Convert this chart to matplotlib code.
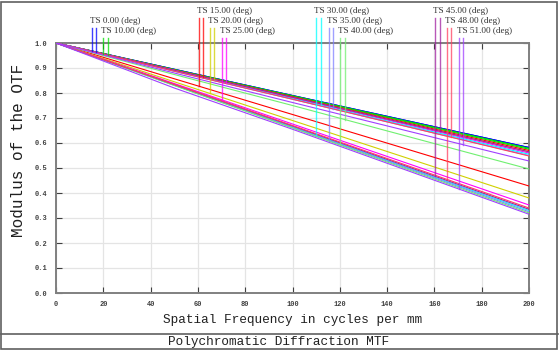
import numpy as np
import matplotlib
matplotlib.use("Agg")
import matplotlib.pyplot as plt
from matplotlib.lines import Line2D
from matplotlib.patches import Rectangle

# spatial frequency samples (cycles/mm)
freq = [0, 50, 100, 150, 200]

# field angles (deg) and MTF, tangential / sagittal
fields = [0, 10, 15, 20, 25, 30, 35, 40, 45, 48, 51]
mtf_T = [
    [1.0, 0.895, 0.790, 0.686, 0.582],
    [1.0, 0.893, 0.787, 0.681, 0.575],
    [1.0, 0.857, 0.714, 0.571, 0.428],
    [1.0, 0.845, 0.690, 0.535, 0.380],
    [1.0, 0.838, 0.676, 0.514, 0.352],
    [1.0, 0.832, 0.665, 0.497, 0.330],
    [1.0, 0.831, 0.662, 0.494, 0.325],
    [1.0, 0.830, 0.660, 0.490, 0.320],
    [1.0, 0.834, 0.668, 0.501, 0.335],
    [1.0, 0.835, 0.670, 0.505, 0.340],
    [1.0, 0.820, 0.655, 0.485, 0.315],
]
mtf_S = [
    [1.0, 0.895, 0.790, 0.686, 0.582],
    [1.0, 0.894, 0.789, 0.684, 0.579],
    [1.0, 0.892, 0.785, 0.677, 0.570],
    [1.0, 0.891, 0.782, 0.673, 0.565],
    [1.0, 0.890, 0.780, 0.670, 0.560],
    [1.0, 0.888, 0.777, 0.666, 0.555],
    [1.0, 0.887, 0.775, 0.662, 0.550],
    [1.0, 0.874, 0.750, 0.623, 0.496],
    [1.0, 0.891, 0.783, 0.674, 0.565],
    [1.0, 0.887, 0.775, 0.662, 0.548],
    [1.0, 0.880, 0.762, 0.645, 0.528],
]
# where each legend tag sits on the frequency axis (T line, S line)
tag_T = [15.2, 19.9, 60.5, 65.1, 70.2, 109.9, 115.4, 120.1, 160.3, 165.3, 170.4]
tag_S = [16.9, 22.0, 62.2, 66.8, 71.9, 112.1, 117.1, 122.2, 162.4, 167.0, 172.1]
tag_row = [1, 2, 0, 1, 2, 0, 1, 2, 0, 1, 2]

colors = ['#0000ff', '#00e000', '#ff0000', '#d0d000', '#ff00ff', '#00ffff',
          '#8080ff', '#70f070', '#a020a0', '#ff4060', '#a040ff']

fig = plt.figure(figsize=(5.59, 3.5), dpi=100)
ax = fig.add_axes([56/559, 57/350, 473/559, 250/350])

for i, f in enumerate(fields):
    ax.plot(freq, mtf_T[i], color=colors[i], lw=0.8, zorder=3)
    ax.plot(freq, mtf_S[i], color=colors[i], lw=0.8, zorder=3)

# legend tags drawn above the plot
row_y = [1.128, 1.088, 1.048]
for i, f in enumerate(fields):
    top = row_y[tag_row[i]] - 0.028
    for xt, curve in ((tag_T[i], mtf_T[i]), (tag_S[i], mtf_S[i])):
        yv = np.interp(xt, freq, curve)
        ax.plot([xt, xt], [top, yv], color=colors[i], lw=1.0, alpha=0.75,
                clip_on=False, zorder=4)
    ax.text(tag_T[i] - 0.9, row_y[tag_row[i]], "TS %.2f (deg)" % f,
            family='Liberation Serif', fontsize=6.6, color='#303030',
            ha='left', va='center', clip_on=False)

ax.set_xlim(0, 200)
ax.set_ylim(0, 1.0)
ax.set_xticks(np.arange(0, 201, 20))
ax.set_yticks(np.arange(0, 1.01, 0.1))
ax.set_yticklabels(["%.1f" % v for v in np.arange(0, 1.01, 0.1)])
ax.grid(True, color='#e4e4e4', lw=0.9, zorder=0)
ax.tick_params(direction='in', length=4, width=0.8, color='#404040',
               top=True, right=True, labelsize=5, labelcolor='#404040', pad=6)
for lab in ax.get_xticklabels() + ax.get_yticklabels():
    lab.set_family('Liberation Mono')
    lab.set_fontweight('bold')
for side in ['left', 'bottom', 'top', 'right']:
    ax.spines[side].set_color('#808080')
    ax.spines[side].set_linewidth(1.4)

ax.set_xlabel("Spatial Frequency in cycles per mm", family='Liberation Mono',
              fontsize=9.2, color='#202020', labelpad=4)
ax.set_ylabel("Modulus of the OTF", family='Liberation Mono',
              fontsize=11.5, color='#202020')
ax.yaxis.label.set_va('center')
ax.yaxis.set_label_coords(-0.08, 0.57)

# outer frame and title box
fig.add_artist(Rectangle((1/559, 1/350), 556/559, 347/350, transform=fig.transFigure,
                         fill=False, edgecolor='#606060', lw=1.2))
fig.add_artist(Line2D([1/559, 558/559], [16/350, 16/350], transform=fig.transFigure,
                      color='#606060', lw=1.2))
fig.text(279/559, 8.5/350, "Polychromatic Diffraction MTF", family='Liberation Mono',
         fontsize=9.2, color='#202020', ha='center', va='center')

fig.savefig("out.png", dpi=100)
